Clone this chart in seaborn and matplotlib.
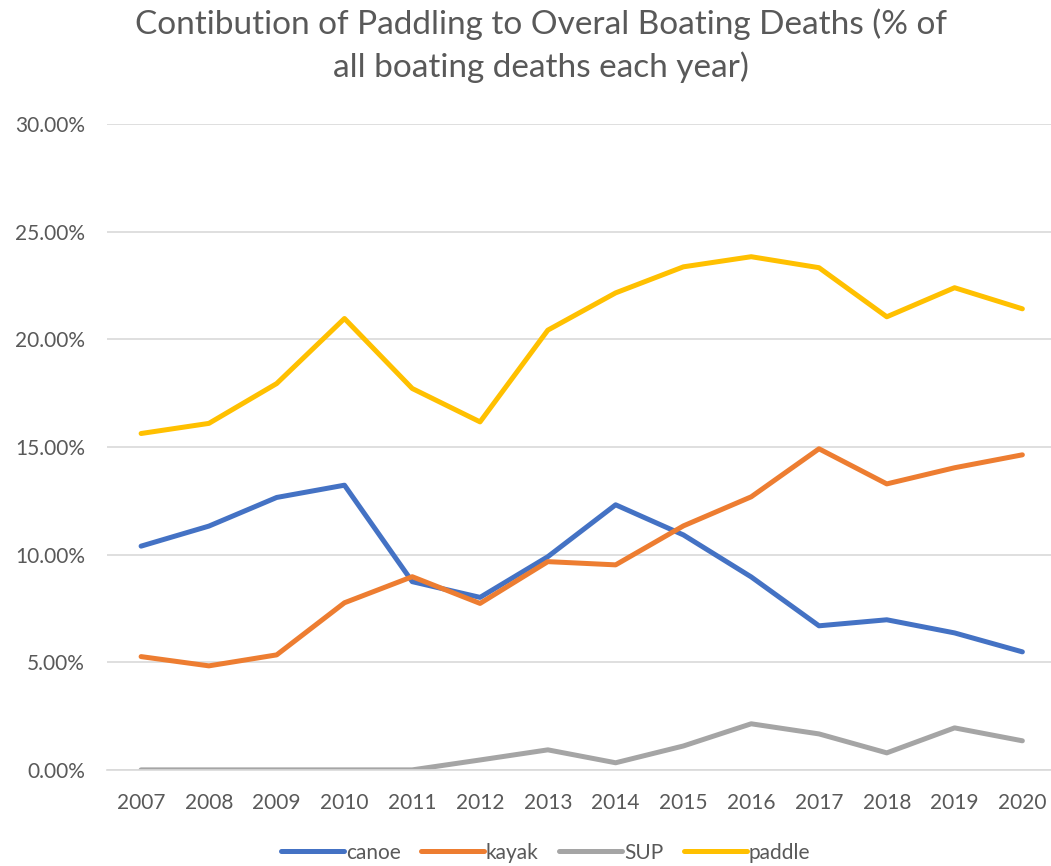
import matplotlib.pyplot as plt
import seaborn as sns
import pandas as pd
from matplotlib.ticker import FuncFormatter

# values (% of all boating deaths)
years = [2007, 2008, 2009, 2010, 2011, 2012, 2013, 2014, 2015, 2016, 2017, 2018, 2019, 2020]
canoe = [10.39, 11.32, 12.65, 13.22, 8.74, 8.01, 9.90, 12.31, 10.91, 8.96, 6.69, 6.97, 6.36, 5.48]
kayak = [5.26, 4.83, 5.34, 7.76, 8.97, 7.73, 9.67, 9.52, 11.33, 12.68, 14.91, 13.28, 14.03, 14.63]
sup = [0, 0, 0, 0, 0, 0.46, 0.93, 0.33, 1.11, 2.14, 1.67, 0.79, 1.95, 1.35]
paddle = [15.62, 16.09, 17.94, 20.96, 17.71, 16.16, 20.42, 22.15, 23.36, 23.83, 23.32, 21.04, 22.39, 21.41]

series = ['canoe', 'kayak', 'SUP', 'paddle']
colors = ['#4472C4', '#ED7D31', '#A5A5A5', '#FFC000']

rows = []
for name, vals in zip(series, [canoe, kayak, sup, paddle]):
    for i, v in enumerate(vals):
        rows.append({'pos': i, 'year': years[i], 'value': v, 'series': name})
df = pd.DataFrame(rows)

sns.set_theme(style='white')
plt.rcParams['font.family'] = ['Lato', 'DejaVu Sans']

fig = plt.figure(figsize=(10.51, 8.66), dpi=100)
ax = fig.add_axes([0.102, 0.111, 0.903, 0.746])

sns.lineplot(data=df, x='pos', y='value', hue='series', hue_order=series,
             palette=colors, linewidth=3.6, ax=ax, solid_capstyle='round')

gray = '#595959'
ax.set_ylim(0, 30)
ax.set_yticks([0, 5, 10, 15, 20, 25, 30])
ax.yaxis.set_major_formatter(FuncFormatter(lambda v, p: f'{v:.2f}%'))
ax.set_xlim(-0.5, 13.5)
ax.set_xticks(range(len(years)))
ax.set_xticklabels([str(y) for y in years])
ax.tick_params(axis='both', length=0, labelsize=15, colors=gray)
ax.tick_params(axis='x', pad=17)
ax.tick_params(axis='y', pad=16)
ax.grid(axis='y', color='#d9d9d9', linewidth=1.2)
ax.set_axisbelow(True)
for s in ['top', 'right', 'left']:
    ax.spines[s].set_visible(False)
ax.spines['bottom'].set_color('#d9d9d9')
ax.spines['bottom'].set_linewidth(1.2)
ax.set_xlabel('')
ax.set_ylabel('')

fig.suptitle('Contibution of Paddling to Overal Boating Deaths (% of\nall boating deaths each year)',
             x=0.515, y=0.99, fontsize=24, color=gray, linespacing=1.45)

leg = ax.legend(loc='center', bbox_to_anchor=(0.462, -0.128), ncol=4, frameon=False,
                fontsize=15, handlelength=3.0, handletextpad=0.1, columnspacing=1.0,
                borderpad=0.1)
for t in leg.get_texts():
    t.set_color(gray)
for h in leg.get_lines():
    h.set_linewidth(3.6)

fig.savefig('out.png', dpi=100)
